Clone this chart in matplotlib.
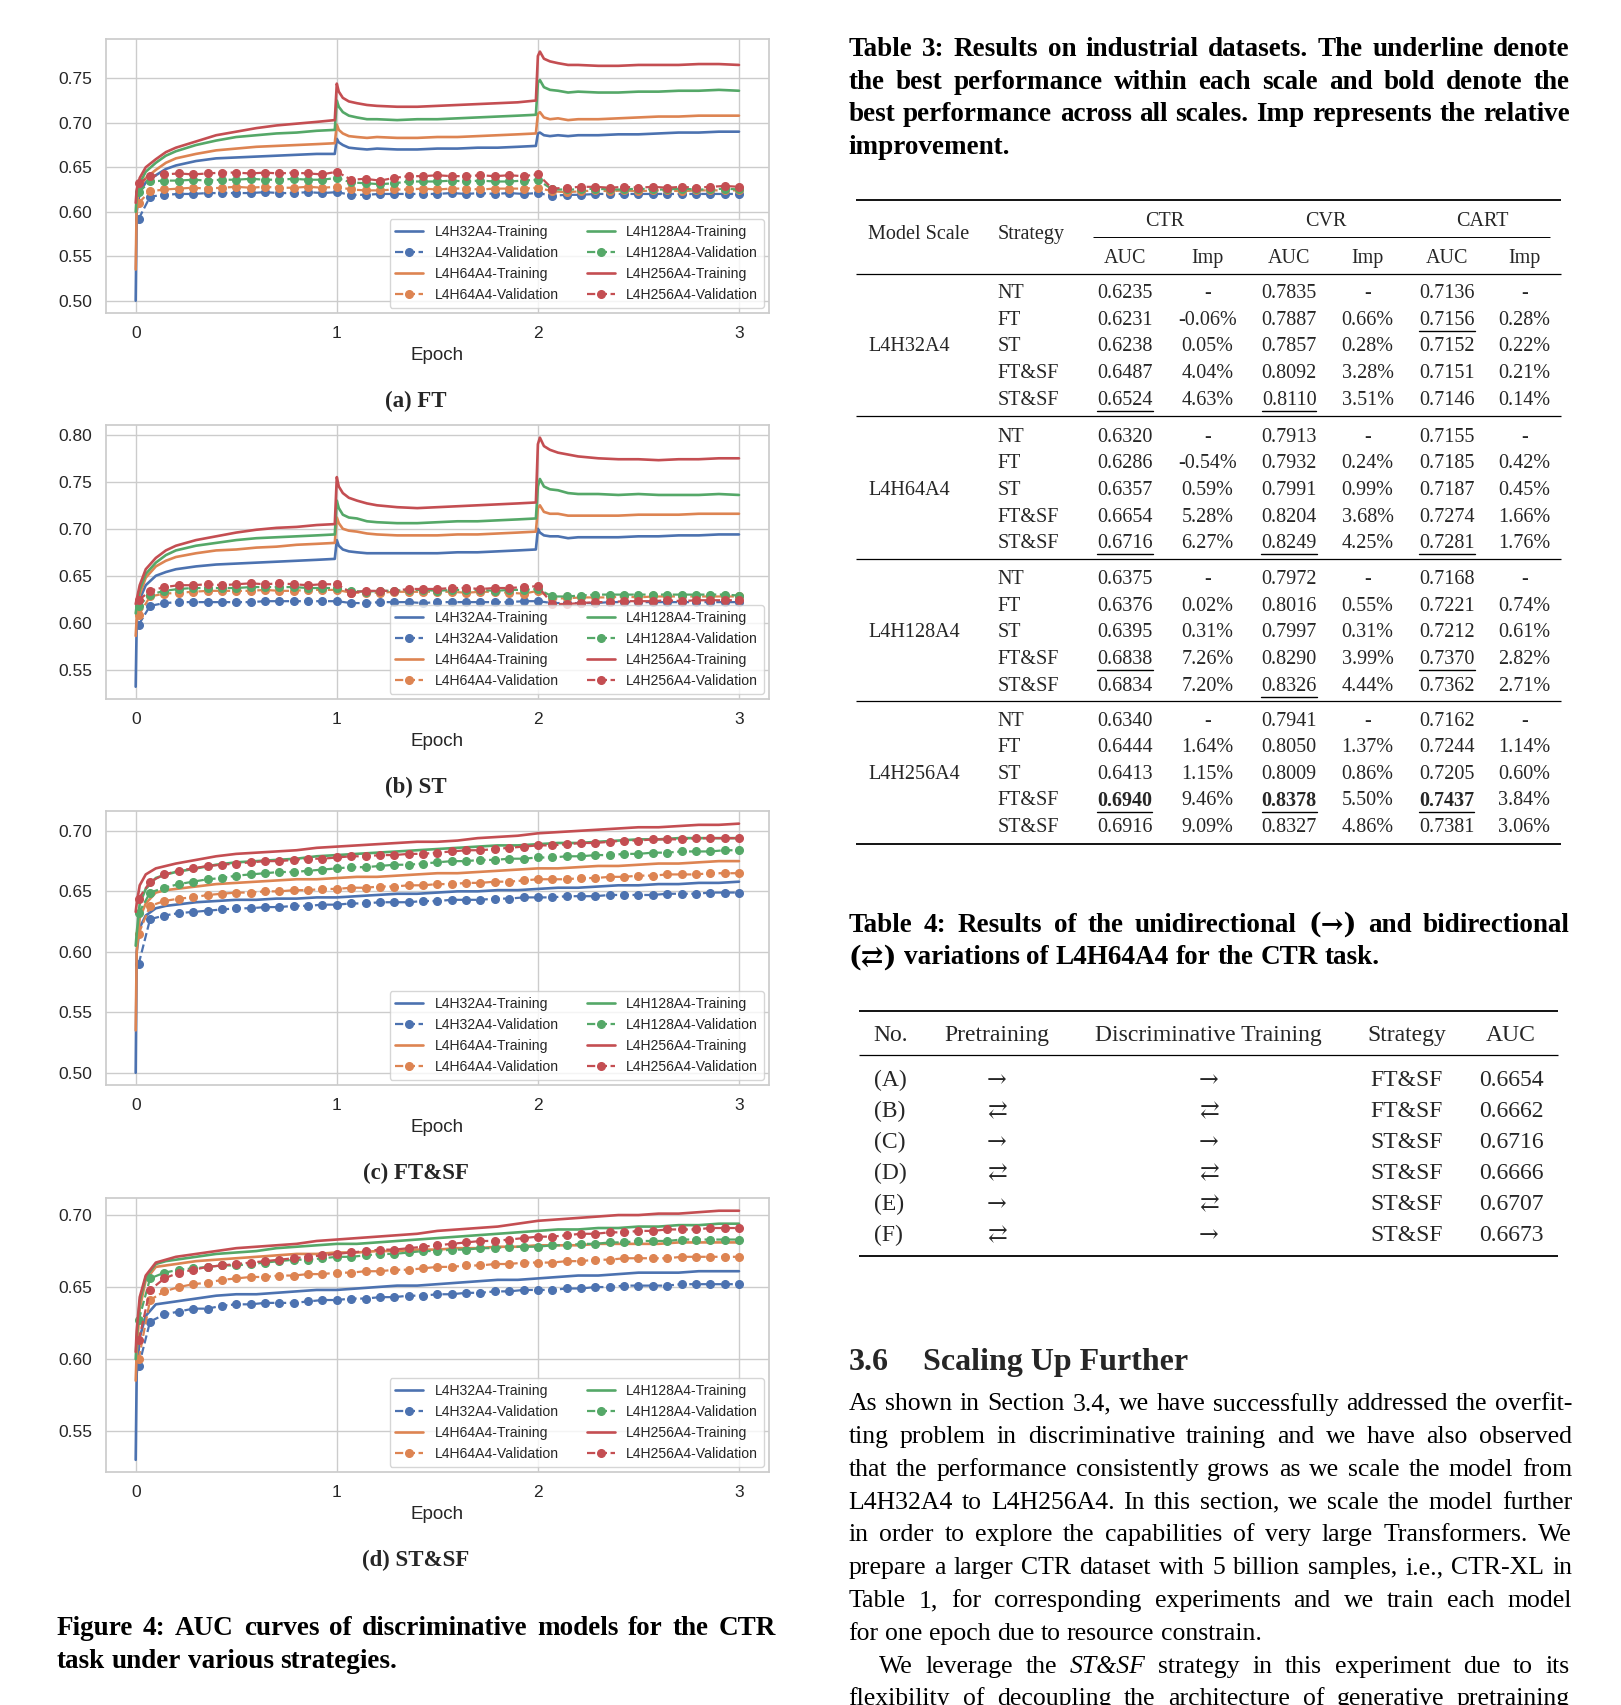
import numpy as np
import matplotlib
matplotlib.use('Agg')
import matplotlib.pyplot as plt
import seaborn as sns

sns.set_theme(style='whitegrid', palette='deep')
plt.rcParams['font.family'] = ['Liberation Sans', 'DejaVu Sans']
SERIF = ['Liberation Serif', 'DejaVu Serif']
ARROW_FONT = ['DejaVu Serif']

# ---------------- curve data (AUC) ----------------
MODELS = ['L4H32A4', 'L4H64A4', 'L4H128A4', 'L4H256A4']
COLORS = sns.color_palette('deep')[:4]

# validation is evaluated 14 times per epoch
VAL_EPOCH = np.r_[0.015, np.arange(1, 43) / 14]

# training grid for the FT / ST runs (jumps at epoch 1 and 2)
JUMP_EPOCH = [0, 0.005, 0.02, 0.05, 0.1, 0.15, 0.2, 0.3, 0.4, 0.5, 0.6, 0.7, 0.8, 0.9, 0.99,
              1.0, 1.01, 1.03, 1.06, 1.1, 1.15, 1.2, 1.3, 1.4, 1.5, 1.6, 1.7, 1.8, 1.9, 1.99,
              2.0, 2.01, 2.03, 2.06, 2.1, 2.15, 2.2, 2.3, 2.4, 2.5, 2.6, 2.7, 2.8, 2.9, 3.0]
# training grid for the FT&SF / ST&SF runs
SMOOTH_EPOCH = [0, 0.005, 0.02, 0.05, 0.1, 0.15, 0.2, 0.3, 0.4, 0.5, 0.6, 0.7, 0.8, 0.9, 1.0,
                1.1, 1.2, 1.3, 1.4, 1.5, 1.6, 1.7, 1.8, 1.9, 2.0,
                2.1, 2.2, 2.3, 2.4, 2.5, 2.6, 2.7, 2.8, 2.9, 3.0]

# (a) FT
FT_TRAIN_H32 = [0.500, 0.600, 0.622, 0.633, 0.641, 0.648, 0.652, 0.657, 0.660, 0.661, 0.662, 0.663, 0.664, 0.665, 0.665,
                0.682, 0.678, 0.675, 0.672, 0.671, 0.670, 0.671, 0.670, 0.670, 0.671, 0.671, 0.672, 0.672, 0.673, 0.674,
                0.688, 0.689, 0.686, 0.685, 0.686, 0.685, 0.686, 0.686, 0.687, 0.687, 0.688, 0.689, 0.689, 0.690, 0.690]
FT_TRAIN_H64 = [0.535, 0.610, 0.628, 0.638, 0.647, 0.655, 0.660, 0.665, 0.669, 0.671, 0.673, 0.674, 0.675, 0.676, 0.677,
                0.698, 0.692, 0.688, 0.685, 0.684, 0.683, 0.684, 0.683, 0.683, 0.684, 0.684, 0.685, 0.686, 0.687, 0.688,
                0.710, 0.712, 0.706, 0.704, 0.705, 0.703, 0.704, 0.704, 0.705, 0.706, 0.707, 0.707, 0.708, 0.708, 0.708]
FT_TRAIN_H128 = [0.600, 0.618, 0.632, 0.645, 0.655, 0.663, 0.668, 0.675, 0.680, 0.684, 0.686, 0.688, 0.689, 0.691, 0.692,
                 0.725, 0.718, 0.712, 0.708, 0.706, 0.704, 0.704, 0.703, 0.704, 0.704, 0.705, 0.706, 0.707, 0.708, 0.709,
                 0.745, 0.748, 0.740, 0.737, 0.736, 0.734, 0.735, 0.734, 0.734, 0.735, 0.735, 0.736, 0.736, 0.737, 0.736]
FT_TRAIN_H256 = [0.610, 0.625, 0.638, 0.650, 0.659, 0.667, 0.672, 0.679, 0.686, 0.690, 0.694, 0.697, 0.699, 0.701, 0.703,
                 0.744, 0.735, 0.728, 0.724, 0.722, 0.720, 0.719, 0.718, 0.718, 0.719, 0.720, 0.721, 0.722, 0.723, 0.725,
                 0.775, 0.780, 0.772, 0.769, 0.767, 0.765, 0.765, 0.764, 0.764, 0.765, 0.765, 0.765, 0.766, 0.766, 0.765]
FT_VAL_H32 = [0.592, 0.617, 0.619, 0.620, 0.620, 0.621, 0.621, 0.621, 0.621, 0.622, 0.621, 0.621, 0.622, 0.621, 0.622,
              0.619, 0.619, 0.620, 0.620, 0.620, 0.620, 0.620, 0.621, 0.620, 0.621, 0.620, 0.621, 0.620, 0.621,
              0.618, 0.619, 0.619, 0.620, 0.620, 0.620, 0.620, 0.620, 0.620, 0.620, 0.620, 0.620, 0.620, 0.620]
FT_VAL_H64 = [0.610, 0.623, 0.625, 0.626, 0.627, 0.626, 0.627, 0.628, 0.627, 0.628, 0.627, 0.627, 0.628, 0.627, 0.628,
              0.625, 0.624, 0.624, 0.625, 0.625, 0.626, 0.625, 0.626, 0.626, 0.625, 0.626, 0.626, 0.626, 0.627,
              0.623, 0.622, 0.623, 0.624, 0.623, 0.624, 0.623, 0.624, 0.624, 0.623, 0.624, 0.624, 0.624, 0.624]
FT_VAL_H128 = [0.622, 0.634, 0.635, 0.635, 0.636, 0.635, 0.636, 0.636, 0.637, 0.636, 0.636, 0.637, 0.636, 0.636, 0.638,
               0.633, 0.632, 0.631, 0.632, 0.634, 0.634, 0.634, 0.635, 0.634, 0.635, 0.634, 0.634, 0.635, 0.636,
               0.625, 0.625, 0.625, 0.626, 0.625, 0.625, 0.626, 0.625, 0.625, 0.626, 0.625, 0.625, 0.626, 0.625]
FT_VAL_H256 = [0.632, 0.640, 0.642, 0.643, 0.642, 0.643, 0.644, 0.644, 0.643, 0.644, 0.643, 0.644, 0.643, 0.642, 0.645,
               0.636, 0.637, 0.635, 0.638, 0.640, 0.640, 0.641, 0.640, 0.640, 0.641, 0.640, 0.641, 0.640, 0.642,
               0.626, 0.627, 0.628, 0.628, 0.627, 0.628, 0.627, 0.628, 0.627, 0.628, 0.627, 0.628, 0.629, 0.628]

# (b) ST
ST_TRAIN_H32 = [0.532, 0.600, 0.625, 0.640, 0.650, 0.654, 0.657, 0.660, 0.662, 0.663, 0.664, 0.665, 0.666, 0.667, 0.668,
                0.688, 0.682, 0.678, 0.676, 0.675, 0.674, 0.674, 0.674, 0.674, 0.674, 0.675, 0.675, 0.676, 0.677, 0.678,
                0.700, 0.696, 0.693, 0.692, 0.692, 0.690, 0.691, 0.691, 0.691, 0.692, 0.692, 0.693, 0.693, 0.694, 0.694]
ST_TRAIN_H64 = [0.586, 0.605, 0.630, 0.648, 0.660, 0.666, 0.670, 0.674, 0.677, 0.678, 0.680, 0.681, 0.683, 0.684, 0.685,
                0.712, 0.706, 0.700, 0.698, 0.697, 0.695, 0.694, 0.693, 0.693, 0.693, 0.694, 0.694, 0.695, 0.696, 0.697,
                0.722, 0.725, 0.718, 0.716, 0.716, 0.714, 0.714, 0.714, 0.714, 0.715, 0.715, 0.715, 0.716, 0.716, 0.716]
ST_TRAIN_H128 = [0.610, 0.618, 0.635, 0.652, 0.664, 0.672, 0.677, 0.682, 0.685, 0.688, 0.690, 0.691, 0.692, 0.693, 0.694,
                 0.730, 0.722, 0.715, 0.712, 0.711, 0.708, 0.707, 0.706, 0.706, 0.707, 0.708, 0.708, 0.709, 0.710, 0.711,
                 0.745, 0.753, 0.745, 0.742, 0.741, 0.738, 0.737, 0.737, 0.736, 0.737, 0.736, 0.736, 0.736, 0.737, 0.736]
ST_TRAIN_H256 = [0.620, 0.625, 0.640, 0.657, 0.669, 0.677, 0.682, 0.688, 0.692, 0.696, 0.699, 0.701, 0.702, 0.704, 0.705,
                 0.755, 0.745, 0.738, 0.733, 0.730, 0.727, 0.725, 0.723, 0.722, 0.723, 0.724, 0.725, 0.726, 0.727, 0.728,
                 0.790, 0.797, 0.788, 0.784, 0.781, 0.779, 0.777, 0.775, 0.774, 0.774, 0.773, 0.774, 0.774, 0.775, 0.775]
ST_VAL_H32 = [0.598, 0.618, 0.621, 0.622, 0.622, 0.622, 0.622, 0.622, 0.622, 0.623, 0.623, 0.623, 0.623, 0.623, 0.623,
              0.621, 0.621, 0.622, 0.622, 0.622, 0.621, 0.622, 0.622, 0.622, 0.622, 0.622, 0.622, 0.623, 0.623,
              0.621, 0.621, 0.621, 0.621, 0.622, 0.622, 0.622, 0.622, 0.622, 0.622, 0.622, 0.622, 0.622, 0.622]
ST_VAL_H64 = [0.608, 0.628, 0.631, 0.632, 0.633, 0.634, 0.634, 0.634, 0.634, 0.635, 0.634, 0.634, 0.635, 0.635, 0.635,
              0.632, 0.632, 0.632, 0.633, 0.633, 0.633, 0.633, 0.633, 0.632, 0.633, 0.633, 0.632, 0.631, 0.634,
              0.626, 0.626, 0.627, 0.627, 0.627, 0.628, 0.627, 0.628, 0.628, 0.628, 0.628, 0.628, 0.628, 0.628]
ST_VAL_H128 = [0.618, 0.630, 0.634, 0.636, 0.637, 0.637, 0.637, 0.637, 0.638, 0.638, 0.638, 0.638, 0.637, 0.637, 0.637,
               0.634, 0.633, 0.634, 0.634, 0.635, 0.635, 0.634, 0.635, 0.635, 0.635, 0.634, 0.635, 0.635, 0.636,
               0.628, 0.628, 0.629, 0.630, 0.630, 0.630, 0.630, 0.630, 0.630, 0.630, 0.630, 0.630, 0.630, 0.629]
ST_VAL_H256 = [0.624, 0.634, 0.638, 0.640, 0.640, 0.641, 0.640, 0.641, 0.642, 0.641, 0.642, 0.641, 0.640, 0.641, 0.641,
               0.632, 0.634, 0.634, 0.634, 0.636, 0.636, 0.636, 0.637, 0.637, 0.636, 0.637, 0.637, 0.638, 0.639,
               0.620, 0.620, 0.621, 0.622, 0.622, 0.623, 0.623, 0.623, 0.624, 0.623, 0.624, 0.624, 0.624, 0.624]

# (c) FT&SF
FTSF_TRAIN_H32 = [0.500, 0.600, 0.620, 0.630, 0.636, 0.638, 0.639, 0.641, 0.642, 0.643, 0.643, 0.644, 0.644, 0.645, 0.645,
                  0.646, 0.647, 0.648, 0.648, 0.649, 0.650, 0.650, 0.651, 0.651, 0.652,
                  0.653, 0.653, 0.654, 0.655, 0.655, 0.656, 0.656, 0.657, 0.657, 0.658]
FTSF_TRAIN_H64 = [0.535, 0.600, 0.628, 0.640, 0.649, 0.651, 0.652, 0.654, 0.656, 0.657, 0.658, 0.659, 0.660, 0.660, 0.661,
                  0.662, 0.662, 0.663, 0.664, 0.665, 0.665, 0.666, 0.667, 0.668, 0.669,
                  0.669, 0.670, 0.671, 0.671, 0.672, 0.673, 0.673, 0.674, 0.675, 0.675]
FTSF_TRAIN_H128 = [0.605, 0.615, 0.640, 0.652, 0.661, 0.664, 0.666, 0.669, 0.672, 0.674, 0.675, 0.676, 0.677, 0.679, 0.680,
                   0.681, 0.682, 0.683, 0.684, 0.685, 0.686, 0.687, 0.688, 0.688, 0.689,
                   0.690, 0.690, 0.691, 0.692, 0.693, 0.693, 0.694, 0.694, 0.694, 0.694]
FTSF_TRAIN_H256 = [0.633, 0.640, 0.655, 0.664, 0.669, 0.671, 0.673, 0.676, 0.679, 0.681, 0.682, 0.683, 0.684, 0.686, 0.687,
                   0.688, 0.689, 0.690, 0.691, 0.691, 0.692, 0.694, 0.695, 0.696, 0.698,
                   0.699, 0.700, 0.701, 0.702, 0.703, 0.703, 0.704, 0.705, 0.705, 0.706]
FTSF_VAL_H32 = [0.590, 0.627, 0.630, 0.632, 0.633, 0.634, 0.635, 0.636, 0.636, 0.637, 0.637, 0.638, 0.638, 0.639, 0.639,
                0.640, 0.640, 0.641, 0.641, 0.641, 0.642, 0.642, 0.643, 0.643, 0.643, 0.644, 0.644, 0.645, 0.645,
                0.645, 0.646, 0.646, 0.646, 0.647, 0.647, 0.647, 0.647, 0.648, 0.648, 0.648, 0.649, 0.649, 0.649]
FTSF_VAL_H64 = [0.615, 0.638, 0.642, 0.644, 0.645, 0.647, 0.648, 0.649, 0.649, 0.650, 0.650, 0.651, 0.651, 0.652, 0.652,
                0.653, 0.653, 0.654, 0.654, 0.655, 0.655, 0.656, 0.656, 0.657, 0.657, 0.658, 0.658, 0.659, 0.660,
                0.660, 0.660, 0.661, 0.661, 0.662, 0.662, 0.663, 0.663, 0.664, 0.664, 0.664, 0.665, 0.665, 0.665]
FTSF_VAL_H128 = [0.632, 0.649, 0.653, 0.656, 0.658, 0.660, 0.661, 0.663, 0.664, 0.665, 0.666, 0.666, 0.667, 0.668, 0.669,
                 0.670, 0.670, 0.671, 0.672, 0.672, 0.673, 0.674, 0.675, 0.675, 0.676, 0.676, 0.677, 0.677, 0.678,
                 0.678, 0.679, 0.679, 0.680, 0.680, 0.681, 0.681, 0.682, 0.682, 0.683, 0.683, 0.683, 0.684, 0.684]
FTSF_VAL_H256 = [0.644, 0.658, 0.664, 0.667, 0.669, 0.671, 0.672, 0.673, 0.674, 0.675, 0.675, 0.676, 0.677, 0.677, 0.678,
                 0.679, 0.679, 0.680, 0.680, 0.681, 0.681, 0.682, 0.683, 0.684, 0.684, 0.685, 0.686, 0.687, 0.688,
                 0.688, 0.689, 0.690, 0.690, 0.691, 0.692, 0.692, 0.693, 0.693, 0.693, 0.694, 0.694, 0.694, 0.694]

# (d) ST&SF
STSF_TRAIN_H32 = [0.530, 0.590, 0.615, 0.630, 0.638, 0.639, 0.640, 0.642, 0.644, 0.645, 0.645, 0.646, 0.647, 0.648, 0.648,
                  0.649, 0.650, 0.651, 0.651, 0.652, 0.653, 0.654, 0.655, 0.655, 0.656,
                  0.657, 0.658, 0.658, 0.659, 0.660, 0.660, 0.660, 0.661, 0.661, 0.661]
STSF_TRAIN_H64 = [0.585, 0.605, 0.635, 0.655, 0.664, 0.665, 0.666, 0.668, 0.669, 0.670, 0.671, 0.672, 0.673, 0.673, 0.674,
                  0.674, 0.675, 0.675, 0.676, 0.676, 0.677, 0.677, 0.678, 0.678, 0.679,
                  0.679, 0.679, 0.680, 0.680, 0.680, 0.680, 0.681, 0.681, 0.681, 0.681]
STSF_TRAIN_H128 = [0.600, 0.615, 0.640, 0.657, 0.666, 0.668, 0.669, 0.671, 0.673, 0.674, 0.675, 0.677, 0.678, 0.679, 0.680,
                   0.680, 0.681, 0.682, 0.683, 0.684, 0.685, 0.686, 0.687, 0.688, 0.689,
                   0.690, 0.690, 0.691, 0.691, 0.692, 0.692, 0.693, 0.693, 0.694, 0.694]
STSF_TRAIN_H256 = [0.605, 0.620, 0.643, 0.658, 0.667, 0.669, 0.671, 0.673, 0.675, 0.677, 0.678, 0.679, 0.680, 0.682, 0.683,
                   0.684, 0.685, 0.686, 0.687, 0.689, 0.690, 0.691, 0.692, 0.694, 0.696,
                   0.697, 0.698, 0.699, 0.700, 0.700, 0.701, 0.701, 0.702, 0.703, 0.703]
STSF_VAL_H32 = [0.595, 0.626, 0.631, 0.633, 0.635, 0.635, 0.637, 0.638, 0.638, 0.639, 0.639, 0.639, 0.640, 0.641, 0.641,
                0.642, 0.642, 0.643, 0.643, 0.644, 0.644, 0.645, 0.645, 0.646, 0.646, 0.647, 0.647, 0.648, 0.648,
                0.648, 0.649, 0.649, 0.650, 0.650, 0.651, 0.651, 0.651, 0.651, 0.652, 0.652, 0.652, 0.652, 0.652]
STSF_VAL_H64 = [0.600, 0.641, 0.647, 0.650, 0.652, 0.653, 0.655, 0.656, 0.657, 0.657, 0.658, 0.658, 0.659, 0.659, 0.660,
                0.660, 0.661, 0.661, 0.662, 0.662, 0.663, 0.664, 0.664, 0.665, 0.665, 0.666, 0.666, 0.667, 0.667,
                0.667, 0.668, 0.668, 0.669, 0.669, 0.670, 0.670, 0.670, 0.670, 0.671, 0.671, 0.671, 0.671, 0.671]
STSF_VAL_H128 = [0.627, 0.656, 0.660, 0.662, 0.663, 0.664, 0.665, 0.665, 0.666, 0.667, 0.668, 0.669, 0.669, 0.670, 0.671,
                 0.671, 0.672, 0.673, 0.673, 0.674, 0.675, 0.675, 0.676, 0.676, 0.677, 0.677, 0.678, 0.678, 0.678,
                 0.679, 0.679, 0.680, 0.680, 0.681, 0.681, 0.682, 0.682, 0.682, 0.683, 0.683, 0.683, 0.683, 0.683]
STSF_VAL_H256 = [0.613, 0.648, 0.656, 0.660, 0.662, 0.664, 0.665, 0.666, 0.667, 0.668, 0.669, 0.670, 0.671, 0.672, 0.673,
                 0.674, 0.675, 0.676, 0.676, 0.677, 0.678, 0.679, 0.680, 0.681, 0.682, 0.682, 0.683, 0.684, 0.685,
                 0.685, 0.686, 0.687, 0.687, 0.688, 0.688, 0.689, 0.689, 0.690, 0.690, 0.690, 0.691, 0.691, 0.691]

# ---------------- Table 3 ----------------
SCALES = ['L4H32A4', 'L4H64A4', 'L4H128A4', 'L4H256A4']
STRATEGIES = ['NT', 'FT', 'ST', 'FT&SF', 'ST&SF']
CTR_AUC = [[0.6235, 0.6231, 0.6238, 0.6487, 0.6524], [0.6320, 0.6286, 0.6357, 0.6654, 0.6716],
           [0.6375, 0.6376, 0.6395, 0.6838, 0.6834], [0.6340, 0.6444, 0.6413, 0.6940, 0.6916]]
CTR_IMP = [['-', '-0.06%', '0.05%', '4.04%', '4.63%'], ['-', '-0.54%', '0.59%', '5.28%', '6.27%'],
           ['-', '0.02%', '0.31%', '7.26%', '7.20%'], ['-', '1.64%', '1.15%', '9.46%', '9.09%']]
CVR_AUC = [[0.7835, 0.7887, 0.7857, 0.8092, 0.8110], [0.7913, 0.7932, 0.7991, 0.8204, 0.8249],
           [0.7972, 0.8016, 0.7997, 0.8290, 0.8326], [0.7941, 0.8050, 0.8009, 0.8378, 0.8327]]
CVR_IMP = [['-', '0.66%', '0.28%', '3.28%', '3.51%'], ['-', '0.24%', '0.99%', '3.68%', '4.25%'],
           ['-', '0.55%', '0.31%', '3.99%', '4.44%'], ['-', '1.37%', '0.86%', '5.50%', '4.86%']]
CART_AUC = [[0.7136, 0.7156, 0.7152, 0.7151, 0.7146], [0.7155, 0.7185, 0.7187, 0.7274, 0.7281],
            [0.7168, 0.7221, 0.7212, 0.7370, 0.7362], [0.7162, 0.7244, 0.7205, 0.7437, 0.7381]]
CART_IMP = [['-', '0.28%', '0.22%', '0.21%', '0.14%'], ['-', '0.42%', '0.45%', '1.66%', '1.76%'],
            ['-', '0.74%', '0.61%', '2.82%', '2.71%'], ['-', '1.14%', '0.60%', '3.84%', '3.06%']]

# ---------------- Table 4 ----------------
T4_NO = ['(A)', '(B)', '(C)', '(D)', '(E)', '(F)']
T4_PRE = ['\u2192', '\u21c4', '\u2192', '\u21c4', '\u2192', '\u21c4']
T4_DISC = ['\u2192', '\u21c4', '\u2192', '\u21c4', '\u21c4', '\u2192']
T4_STRAT = ['FT&SF', 'FT&SF', 'ST&SF', 'ST&SF', 'ST&SF', 'ST&SF']
T4_AUC = [0.6654, 0.6662, 0.6716, 0.6666, 0.6707, 0.6673]

# ---------------- figure ----------------
FW, FH = 1621, 1705
W, H = 1490, 1568          # layout units used below (page coordinates)
fig = plt.figure(figsize=(FW / 100, FH / 100), dpi=100)

ov = fig.add_axes([0, 0, 1, 1], zorder=-1)
ov.set_xlim(0, W)
ov.set_ylim(H, 0)
ov.axis('off')
renderer = fig.canvas.get_renderer()
PX = W / FW


def rect(top, bottom, left=97, right=707):
    return [left / W, 1 - bottom / H, (right - left) / W, (bottom - top) / H]


def draw_panel(box, train_epoch, train, val, caption, cap_y):
    ax = fig.add_axes(box)
    for name, color, tr, va in zip(MODELS, COLORS, train, val):
        ax.plot(train_epoch, tr, color=color, lw=1.9, label=f'{name}-Training')
        ax.plot(VAL_EPOCH, va, color=color, lw=1.6, ls='--', marker='o', ms=5.5,
                label=f'{name}-Validation')
    ax.set_xticks([0, 1, 2, 3])
    ax.tick_params(labelsize=12.5, colors='.15')
    ax.set_xlabel('Epoch', fontsize=13.5, color='.15')
    ax.legend(loc='lower right', ncol=2, fontsize=10.1, borderaxespad=0.4)
    ov.text(382, cap_y, caption, ha='center', va='center_baseline', fontsize=16.5,
            fontweight='bold', family=SERIF)
    return ax


draw_panel(rect(36, 288), JUMP_EPOCH,
           [FT_TRAIN_H32, FT_TRAIN_H64, FT_TRAIN_H128, FT_TRAIN_H256],
           [FT_VAL_H32, FT_VAL_H64, FT_VAL_H128, FT_VAL_H256], '(a) FT', 367)
draw_panel(rect(391, 643), JUMP_EPOCH,
           [ST_TRAIN_H32, ST_TRAIN_H64, ST_TRAIN_H128, ST_TRAIN_H256],
           [ST_VAL_H32, ST_VAL_H64, ST_VAL_H128, ST_VAL_H256], '(b) ST', 722)
draw_panel(rect(746, 998), SMOOTH_EPOCH,
           [FTSF_TRAIN_H32, FTSF_TRAIN_H64, FTSF_TRAIN_H128, FTSF_TRAIN_H256],
           [FTSF_VAL_H32, FTSF_VAL_H64, FTSF_VAL_H128, FTSF_VAL_H256], '(c) FT&SF', 1077)
draw_panel(rect(1102, 1354), SMOOTH_EPOCH,
           [STSF_TRAIN_H32, STSF_TRAIN_H64, STSF_TRAIN_H128, STSF_TRAIN_H256],
           [STSF_VAL_H32, STSF_VAL_H64, STSF_VAL_H128, STSF_VAL_H256], '(d) ST&SF', 1433)


# ---------------- text helpers ----------------
BODY = 18.5
CAP = 19.5


def text_line(line, x0, y, x1=None, size=BODY, weight='normal', italic=()):
    arts, widths = [], []
    for word in line.split(' '):
        fam = ARROW_FONT if ('\u2192' in word or '\u21c4' in word) else SERIF
        t = ov.text(x0, y, word, fontsize=size, fontweight=weight, family=fam,
                    fontstyle='italic' if word in italic else 'normal',
                    va='center_baseline', ha='left', color='black')
        arts.append(t)
        widths.append(t.get_window_extent(renderer).width * PX)
    gap = size * 100 / 72 * 0.25 * PX
    if x1 is not None and len(arts) > 1:
        gap = max((x1 - x0 - sum(widths)) / (len(arts) - 1), 0.12 * gap)
    x = x0
    for t, wd in zip(arts, widths):
        t.set_x(x)
        x += wd + gap


def underline(t):
    bb = t.get_window_extent(renderer)
    inv = ov.transData.inverted()
    (xa, ya), (xb, _) = inv.transform([(bb.x0, bb.y0), (bb.x1, bb.y0)])
    ov.plot([xa, xb], [ya + 1, ya + 1], color='black', lw=1.0)


def rule(x0, x1, y, lw):
    ov.plot([x0, x1], [y, y], color='black', lw=lw, solid_capstyle='butt')


# Figure 4 caption
text_line('Figure 4: AUC curves of discriminative models for the CTR', 52, 1495, 713, size=CAP, weight='bold')
text_line('task under various strategies.', 52, 1525, size=CAP, weight='bold')

# Table 3 caption
RX0, RX1 = 780, 1443
text_line('Table 3: Results on industrial datasets. The underline denote', RX0, 43, RX1, size=CAP, weight='bold')
text_line('the best performance within each scale and bold denote the', RX0, 73, RX1, size=CAP, weight='bold')
text_line('best performance across all scales. Imp represents the relative', RX0, 103, RX1, size=CAP, weight='bold')
text_line('improvement.', RX0, 133, size=CAP, weight='bold')

# Table 3 body
T3 = 14.5
rule(787, 1435, 184, 1.3)
ov.text(798, 213, 'Model Scale', fontsize=T3, family=SERIF, va='center_baseline')
ov.text(917, 213, 'Strategy', fontsize=T3, family=SERIF, va='center_baseline')
for name, xc in zip(['CTR', 'CVR', 'CART'], [1071, 1219, 1363]):
    ov.text(xc, 201, name, fontsize=T3, family=SERIF, ha='center', va='center_baseline')
rule(1005, 1425, 218, 0.7)
COL_X = [1034, 1110, 1185, 1257, 1330, 1401]
for lab, xc in zip(['AUC', 'Imp'] * 3, COL_X):
    ov.text(xc, 235, lab, fontsize=T3, family=SERIF, ha='center', va='center_baseline')
rule(787, 1435, 252, 0.9)

GROUP_Y = [268, 400, 531, 661]
ROW_STEP = 24.4
best_all = [max(max(r) for r in tab) for tab in (CTR_AUC, CVR_AUC, CART_AUC)]
for g, scale in enumerate(SCALES):
    y0 = GROUP_Y[g]
    ov.text(798, y0 + 2 * ROW_STEP, scale, fontsize=T3, family=SERIF, va='center_baseline')
    for r, strat in enumerate(STRATEGIES):
        y = y0 + r * ROW_STEP
        ov.text(917, y, strat, fontsize=T3, family=SERIF, va='center_baseline')
        cols = [(CTR_AUC, CTR_IMP), (CVR_AUC, CVR_IMP), (CART_AUC, CART_IMP)]
        for c, (auc, imp) in enumerate(cols):
            v = auc[g][r]
            is_bold = v == best_all[c]
            t = ov.text(COL_X[2 * c], y, f'{v:.4f}', fontsize=T3, family=SERIF, ha='center',
                        va='center_baseline', fontweight='bold' if is_bold else 'normal')
            if v == max(auc[g]):
                underline(t)
            ov.text(COL_X[2 * c + 1], y, imp[g][r], fontsize=T3, family=SERIF, ha='center',
                    va='center_baseline')
    if g < 3:
        rule(787, 1435, [383, 514, 645][g], 0.9)
rule(787, 1435, 776, 1.3)

# Table 4 caption
text_line('Table 4: Results of the unidirectional (\u2192) and bidirectional', RX0, 848, RX1, size=CAP, weight='bold')
text_line('(\u21c4) variations of L4H64A4 for the CTR task.', RX0, 878, size=CAP, weight='bold')

# Table 4 body
T4 = 17
rule(790, 1432, 930, 1.3)
ov.text(803, 950, 'No.', fontsize=T4, family=SERIF, va='center_baseline')
for lab, xc in zip(['Pretraining', 'Discriminative Training', 'Strategy', 'AUC'], [916, 1111, 1293, 1389]):
    ov.text(xc, 950, lab, fontsize=T4, family=SERIF, ha='center', va='center_baseline')
rule(790, 1432, 970, 0.9)
for i in range(len(T4_NO)):
    y = 991 + i * 28.6
    ov.text(803, y, T4_NO[i], fontsize=T4, family=SERIF, va='center_baseline')
    ov.text(916, y, T4_PRE[i], fontsize=T4, family=ARROW_FONT, ha='center', va='center_baseline')
    ov.text(1111, y, T4_DISC[i], fontsize=T4, family=ARROW_FONT, ha='center', va='center_baseline')
    ov.text(1293, y, T4_STRAT[i], fontsize=T4, family=SERIF, ha='center', va='center_baseline')
    ov.text(1389, y, f'{T4_AUC[i]:.4f}', fontsize=T4, family=SERIF, ha='center', va='center_baseline')
rule(790, 1432, 1155, 1.3)

# Section 3.6
ov.text(780, 1250, '3.6', fontsize=23, fontweight='bold', family=SERIF, va='center_baseline')
ov.text(848, 1250, 'Scaling Up Further', fontsize=23, fontweight='bold', family=SERIF, va='center_baseline')
BODY_LINES = [
    'As shown in Section 3.4, we have successfully addressed the overfit-',
    'ting problem in discriminative training and we have also observed',
    'that the performance consistently grows as we scale the model from',
    'L4H32A4 to L4H256A4. In this section, we scale the model further',
    'in order to explore the capabilities of very large Transformers. We',
    'prepare a larger CTR dataset with 5 billion samples, i.e., CTR-XL in',
    'Table 1, for corresponding experiments and we train each model',
]
for i, line in enumerate(BODY_LINES):
    text_line(line, RX0, 1289 + i * 30.2, 1445)
text_line('for one epoch due to resource constrain.', RX0, 1500)
text_line('We leverage the ST&SF strategy in this experiment due to its', 808, 1531, 1443, italic=('ST&SF',))
text_line('flexibility of decoupling the architecture of generative pretraining', RX0, 1560, 1443)

fig.savefig('out.png', dpi=100)
